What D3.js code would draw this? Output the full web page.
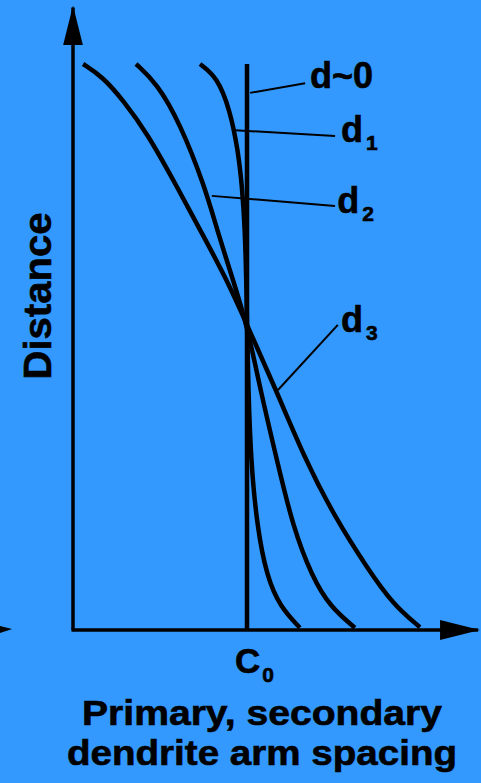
<!DOCTYPE html>
<html lang="en">

<head>
    <meta charset="UTF-8">
    <title>Dendrite arm spacing profiles</title>
    <script src="https://d3js.org/d3.v7.min.js"></script>
    <style>
        body {
            margin: 0;
            background: #3399ff;
        }
        svg {
            display: block;
            font-family: "Liberation Sans", Arial, sans-serif;
            font-weight: bold;
        }
        text {
            stroke: black;
            stroke-width: 0.6px;
        }
    </style>
</head>

<body>
    <svg id="chart" width="481" height="783"></svg>
    <script>
        // curves: x = spacing (C0 at 5), y = distance
        const d1X = [3.65, 4.14, 4.51, 4.74, 4.86, 4.94, 4.98, 5.00, 5.04, 5.11, 5.29, 5.57, 5.95, 6.52];
        const d1Y = [10.0, 9.77, 9.19, 8.48, 7.83, 7.07, 6.18, 5.39, 4.24, 3.00, 1.82, 0.94, 0.41, 0.04];
        const d2X = [1.81, 2.41, 3.07, 3.79, 4.14, 4.60, 5.00, 5.40, 5.86, 6.32, 6.87, 7.39, 8.10];
        const d2Y = [10.0, 9.66, 8.96, 7.83, 7.07, 6.18, 5.39, 4.20, 3.00, 1.82, 0.94, 0.41, 0.04];
        const d3X = [0.29, 0.86, 1.44, 2.13, 2.99, 3.65, 4.43, 5.00, 5.80, 6.68, 7.52, 8.45, 9.20, 9.97];
        const d3Y = [10.0, 9.77, 9.36, 8.78, 7.83, 7.07, 6.18, 5.39, 4.29, 3.00, 2.00, 1.10, 0.45, 0.05];
        const c0 = 5;
        const c0Top = 10.0;

        const labels = ["d~0", "d", "d", "d"];
        const subs = ["", "1", "2", "3"];
        const labelX = [6.81, 7.70, 7.59, 7.70];
        const labelY = [9.58, 8.62, 7.37, 5.27];
        // leader lines: from point on curve to the label
        const leadFromX = [5.09, 4.66, 3.99, 5.89];
        const leadFromY = [9.49, 8.83, 7.67, 4.24];
        const leadToX = [6.67, 7.53, 7.53, 7.61];
        const leadToY = [9.66, 8.73, 7.49, 5.39];

        const svg = d3.select("#chart");

        const x = d3.scaleLinear().domain([0, 10]).range([73, 421]);
        const y = d3.scaleLinear().domain([0, 10]).range([630, 64]);

        svg.append("rect")
            .attr("width", 481)
            .attr("height", 783)
            .attr("fill", "#3399ff");

        const defs = svg.append("defs");
        defs.append("marker")
            .attr("id", "arrow")
            .attr("viewBox", "0 0 40 20")
            .attr("refX", 38)
            .attr("refY", 10)
            .attr("markerWidth", 40)
            .attr("markerHeight", 20)
            .attr("markerUnits", "userSpaceOnUse")
            .attr("orient", "auto")
            .append("path")
            .attr("d", "M0,0L40,10L0,20Z")
            .attr("fill", "black");

        // axes
        svg.append("line")
            .attr("x1", x(0)).attr("y1", y(0))
            .attr("x2", x(0)).attr("y2", y(11))
            .attr("stroke", "black")
            .attr("stroke-width", 3.5)
            .attr("marker-end", "url(#arrow)");
        svg.append("line")
            .attr("x1", x(0) - 1.5).attr("y1", y(0))
            .attr("x2", x(11.64)).attr("y2", y(0))
            .attr("stroke", "black")
            .attr("stroke-width", 3.5)
            .attr("marker-end", "url(#arrow)");

        // stray arrow tip at the left edge
        svg.append("path")
            .attr("d", `M${x(-2.1)},${y(0) - 4}L${x(-1.75)},${y(0) - 1}L${x(-2.1)},${y(0) + 3}Z`)
            .attr("fill", "black");

        // C0 line (d ~ 0)
        svg.append("line")
            .attr("x1", x(c0)).attr("y1", y(0))
            .attr("x2", x(c0)).attr("y2", y(c0Top))
            .attr("stroke", "black")
            .attr("stroke-width", 4.5);

        const line = d3.line()
            .x(d => x(d[0]))
            .y(d => y(d[1]))
            .curve(d3.curveBasis);

        [[d1X, d1Y], [d2X, d2Y], [d3X, d3Y]].forEach(([xs, ys]) => {
            svg.append("path")
                .attr("d", line(xs.map((v, i) => [v, ys[i]])))
                .attr("fill", "none")
                .attr("stroke", "black")
                .attr("stroke-width", 4.5)
                .attr("stroke-linecap", "butt");
        });

        // leaders and labels
        labels.forEach((t, i) => {
            svg.append("line")
                .attr("x1", x(leadFromX[i])).attr("y1", y(leadFromY[i]))
                .attr("x2", x(leadToX[i])).attr("y2", y(leadToY[i]))
                .attr("stroke", "black")
                .attr("stroke-width", 2);

            const txt = svg.append("text")
                .attr("x", x(labelX[i]))
                .attr("y", y(labelY[i]))
                .attr("font-size", 36)
                .text(t);
            if (subs[i]) {
                txt.append("tspan")
                    .attr("dx", 3)
                    .attr("dy", 8)
                    .attr("font-size", 21)
                    .text(subs[i]);
            }
        });

        const c0Label = svg.append("text")
            .attr("x", x(c0) - 12)
            .attr("y", y(0) + 43)
            .attr("font-size", 35)
            .text("C");
        c0Label.append("tspan")
            .attr("dx", 2)
            .attr("dy", 9)
            .attr("font-size", 21)
            .text("0");

        // axis titles
        svg.append("text")
            .attr("text-anchor", "middle")
            .attr("x", 262)
            .attr("y", 725)
            .attr("font-size", 35)
            .attr("textLength", 360)
            .attr("lengthAdjust", "spacingAndGlyphs")
            .text("Primary, secondary");
        svg.append("text")
            .attr("text-anchor", "middle")
            .attr("x", 262)
            .attr("y", 765)
            .attr("font-size", 35)
            .attr("textLength", 390)
            .attr("lengthAdjust", "spacingAndGlyphs")
            .text("dendrite arm spacing");

        svg.append("text")
            .attr("text-anchor", "middle")
            .attr("transform", "translate(51,296) rotate(-90)")
            .attr("font-size", 39)
            .attr("textLength", 167)
            .attr("lengthAdjust", "spacingAndGlyphs")
            .text("Distance");
    </script>
</body>
</html>
